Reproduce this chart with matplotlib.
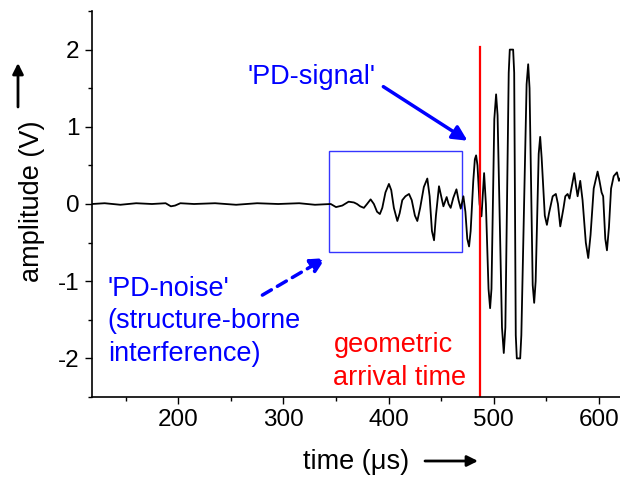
import matplotlib
matplotlib.use('Agg')
import matplotlib.pyplot as plt
from matplotlib.patches import Rectangle
from matplotlib.ticker import MultipleLocator

plt.rcParams['font.family'] = ['Liberation Sans', 'DejaVu Sans']
plt.rcParams['axes.unicode_minus'] = False

# waveform (time in us, amplitude in V)
time_us = [118, 130, 145, 160, 175, 188, 193, 197, 202, 215, 235, 255, 275,
           295, 315, 330, 345, 350, 356, 362, 367,
           370, 373, 376.5, 379.5, 382.9, 386, 389, 391.7, 394, 397,
           400.3, 402.5, 405, 408.3, 410.5, 413, 416, 419.4, 422, 425,
           427.3, 430, 433.5, 436.8, 439, 441.2, 443.2, 445, 447.9, 450,
           452.1, 455.2, 457, 459, 461.5, 464.5, 466.5, 468.6, 471.1, 473,
           474.8, 476.5, 478, 480.5, 482, 483.2, 484.5, 486.5, 488.3, 490.8,
           492.5, 495, 496.5, 497.8, 500.5, 502.2, 503.6, 507.8, 509.5, 511,
           514.2, 515.2, 518.4, 519.4, 520.9, 521.9, 525.1, 526.2, 531.2,
           532.7, 534, 537, 538.4, 539.8, 542.7, 544.1, 545.5, 548.5, 550.5,
           552.5, 556, 559, 561, 563.2, 566.3, 568, 570.2, 572, 574.5, 576.5,
           578, 579.7, 582.2, 584.4, 587.5, 589.8, 592, 595, 598.7, 600.5,
           602.5, 604, 606, 607.6, 609.5, 611.5, 614, 617.1, 619, 621]
amplitude = [0, 0.01, -0.01, 0.01, 0, 0.01, -0.03, -0.02, 0.01, 0, 0.01,
             -0.01, 0.01, 0, 0.01, -0.01, 0, -0.04, -0.02, 0.03, 0.02,
             0.0, -0.03, -0.05, 0.0, 0.06, 0.0, -0.10, -0.13, -0.05, 0.15,
             0.26, 0.18, -0.05, -0.22, -0.12, 0.05, 0.10, 0.13, 0.05, -0.15,
             -0.22, -0.05, 0.22, 0.33, 0.10, -0.35, -0.47, -0.15, 0.23, 0.10,
             -0.03, 0.09, 0.0, -0.05, 0.08, 0.19, 0.05, -0.06, 0.10, -0.10,
             -0.45, -0.55, -0.35, 0.30, 0.58, 0.63, 0.50, 0.0, -0.16, 0.40,
             0.0, -1.10, -1.35, -1.10, 1.10, 1.42, 1.15, -1.60, -1.93, -1.60,
             1.70, 2.0, 2.0, 1.70, -1.70, -2.0, -2.0, -1.70, 1.55,
             1.81, 1.50, -1.05, -1.28, -1.0, 0.65, 0.87, 0.60, -0.15, -0.27,
             -0.12, 0.10, 0.13, 0.0, -0.29, -0.05, 0.10, 0.13, 0.07, 0.25, 0.40,
             0.25, 0.10, 0.30, 0.05, -0.50, -0.70, -0.40, 0.20, 0.42, 0.30,
             0.15, 0.10, -0.45, -0.60, -0.30, 0.20, 0.36, 0.41, 0.30, 0.35]

arrival_time = 487
noise_box = (343.8, -0.62, 469.5, 0.69)  # x0, y0, x1, y1

fig = plt.figure(figsize=(6.2, 4.8), dpi=100)
ax = fig.add_axes([92 / 620, 83 / 480, 528 / 620, 386 / 480])

ax.plot(time_us, amplitude, color='black', lw=1.3)
ax.plot([arrival_time, arrival_time], [-2.5, 2.04], color='red', lw=1.6)

x0, y0, x1, y1 = noise_box
ax.add_patch(Rectangle((x0, y0), x1 - x0, y1 - y0, fill=False,
                       edgecolor='#3535ff', lw=1.0))

ax.set_xlim(118, 620)
ax.set_ylim(-2.5, 2.5)
ax.xaxis.set_major_locator(MultipleLocator(100))
ax.xaxis.set_minor_locator(MultipleLocator(50))
ax.yaxis.set_major_locator(MultipleLocator(1))
ax.yaxis.set_minor_locator(MultipleLocator(0.5))
ax.tick_params(which='major', direction='out', length=5, width=1,
               labelsize=17.5, pad=4)
ax.tick_params(which='minor', direction='out', length=3, width=1)
for side in ['top', 'right']:
    ax.spines[side].set_visible(False)
for side in ['left', 'bottom']:
    ax.spines[side].set_linewidth(1.2)

# annotations
ax.text(265.7, 1.65, "'PD-signal'", color='blue', fontsize=19.5,
        ha='left', va='center')
ax.annotate('', xy=(475, 0.82), xytext=(395, 1.52),
            arrowprops=dict(arrowstyle='-|>', color='blue', lw=2.5,
                            mutation_scale=22, shrinkA=0, shrinkB=0))
ax.text(133, -1.52, "'PD-noise'\n(structure-borne\ninterference)",
        color='blue', fontsize=19.5, ha='left', va='center', linespacing=1.32)
ax.annotate('', xy=(340, -0.70), xytext=(280, -1.18),
            arrowprops=dict(arrowstyle='-|>', color='blue', lw=2.5,
                            linestyle=(0, (3, 2)), mutation_scale=22,
                            shrinkA=0, shrinkB=0))
ax.text(347.6, -2.04, 'geometric\narrival time', color='red', fontsize=19.5,
        ha='left', va='center', linespacing=1.32)

# axis labels with arrows
fig.text(303 / 620, 1 - 462 / 480, 'time (\u03bcs)', fontsize=19.5,
         ha='left', va='center')
ax.annotate('', xy=(478, 480 - 461), xytext=(425, 480 - 461),
            xycoords='figure pixels',
            arrowprops=dict(arrowstyle='-|>', color='black', lw=2,
                            mutation_scale=16, shrinkA=0, shrinkB=0))
fig.text(32 / 620, 1 - 201 / 480, 'amplitude (V)', fontsize=19.5,
         rotation=90, ha='center', va='center')
ax.annotate('', xy=(18, 480 - 63), xytext=(18, 480 - 107),
            xycoords='figure pixels',
            arrowprops=dict(arrowstyle='-|>', color='black', lw=2,
                            mutation_scale=16, shrinkA=0, shrinkB=0))

fig.savefig('out.png', dpi=100)
